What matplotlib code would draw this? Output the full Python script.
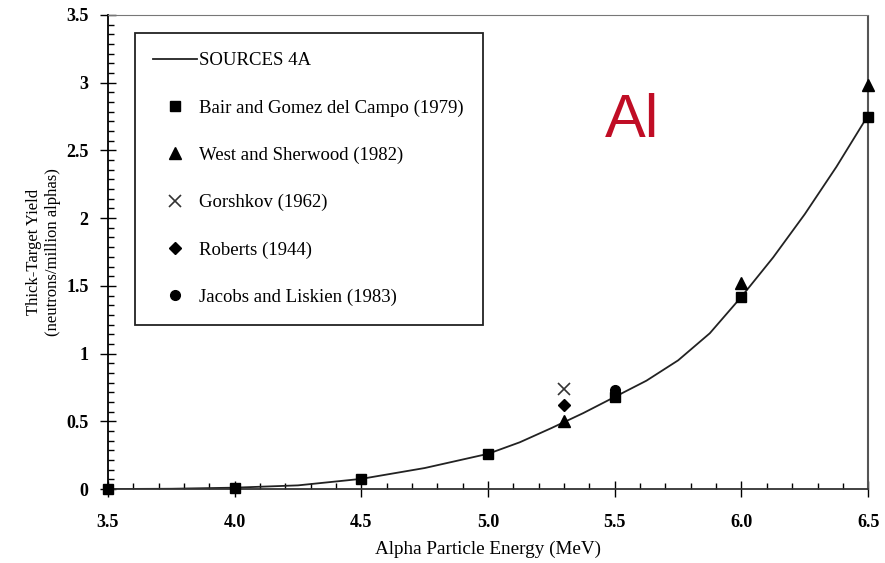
import matplotlib.pyplot as plt
from matplotlib.ticker import MultipleLocator, AutoMinorLocator

# SOURCES 4A calculated curve
calc_e = [3.5, 3.75, 4.0, 4.25, 4.5, 4.75, 5.0, 5.125, 5.25, 5.375, 5.5, 5.625, 5.75, 5.875,
          6.0, 6.125, 6.25, 6.375, 6.5]
calc_y = [0.0, 0.002, 0.01, 0.027, 0.075, 0.155, 0.26, 0.345, 0.45, 0.56, 0.68, 0.80, 0.95, 1.15,
          1.42, 1.71, 2.03, 2.38, 2.76]

bair_e = [3.5, 4.0, 4.5, 5.0, 5.5, 6.0, 6.5]
bair_y = [0.0, 0.01, 0.075, 0.26, 0.68, 1.42, 2.75]

west_e = [5.3, 6.0, 6.5]
west_y = [0.50, 1.52, 2.98]

gorshkov_e = [5.3]
gorshkov_y = [0.74]

roberts_e = [5.3]
roberts_y = [0.62]

jacobs_e = [5.5]
jacobs_y = [0.73]

xticks = [3.5, 4.0, 4.5, 5.0, 5.5, 6.0, 6.5]
xlabels = ['3.5', '4.0', '4.5', '5.0', '5.5', '6.0', '6.5']
yticks = [0, 0.5, 1, 1.5, 2, 2.5, 3, 3.5]
ylabels = ['0', '0.5', '1', '1.5', '2', '2.5', '3', '3.5']

plt.rcParams['font.family'] = ['Liberation Serif', 'DejaVu Serif']

fig = plt.figure(figsize=(8.85, 5.63), dpi=100)
ax = fig.add_axes([0.122, 0.1314, 0.859, 0.842])

ax.plot(calc_e, calc_y, color='#222222', lw=1.3, label='SOURCES 4A', zorder=2)
ax.plot(bair_e, bair_y, 's', color='black', ms=7, label='Bair and Gomez del Campo (1979)',
        zorder=3, clip_on=False)
ax.plot(west_e, west_y, '^', color='black', ms=8, label='West and Sherwood (1982)',
        zorder=3, clip_on=False)
ax.plot(gorshkov_e, gorshkov_y, 'x', color='#333333', ms=8, mew=1.2, label='Gorshkov (1962)', zorder=3)
ax.plot(roberts_e, roberts_y, 'D', color='black', ms=6, label='Roberts (1944)', zorder=3)
ax.plot(jacobs_e, jacobs_y, 'o', color='black', ms=7, label='Jacobs and Liskien (1983)', zorder=3)

ax.set_xlim(3.5, 6.5)
ax.set_ylim(0, 3.5)
ax.set_xticks(xticks)
ax.set_xticklabels(xlabels)
ax.set_yticks(yticks)
ax.set_yticklabels(ylabels)
ax.xaxis.set_minor_locator(MultipleLocator(0.1))
ax.yaxis.set_minor_locator(AutoMinorLocator(7))

ax.tick_params(axis='both', which='major', direction='inout', length=12, width=1, labelsize=13, color='black')
ax.tick_params(axis='both', which='minor', direction='in', length=4, width=1)
ax.tick_params(axis='x', which='both', top=False, pad=12)
ax.tick_params(axis='y', which='both', right=False, pad=8)
for lbl in ax.get_xticklabels() + ax.get_yticklabels():
    lbl.set_fontweight('bold')

ax.spines['left'].set_linewidth(1.3)
ax.spines['bottom'].set_linewidth(1.3)
ax.spines['bottom'].set_color('#333333')
ax.spines['top'].set_linestyle((0, (1, 1)))
ax.spines['top'].set_color('#777777')
ax.spines['right'].set_linestyle((0, (1, 1)))
ax.spines['right'].set_color('#555555')
ax.spines['right'].set_linewidth(1.5)

ax.set_xlabel('Alpha Particle Energy (MeV)', fontsize=13.8, labelpad=7)
ax.set_ylabel('Thick-Target Yield\n(neutrons/million alphas)', fontsize=12,
              labelpad=4, linespacing=1.2)

leg = ax.legend(loc='upper left', bbox_to_anchor=(0.035, 0.961), prop={'size': 13.5},
                frameon=True, fancybox=False, edgecolor='#222222', framealpha=1, borderpad=1.0,
                labelspacing=1.6, handlelength=2.35, handletextpad=0.1, borderaxespad=0)
leg.get_frame().set_linewidth(1.3)

ax.text(5.57, 2.71, 'Al', color='#c00d25', fontsize=44, family='Liberation Sans',
        ha='center', va='center')

fig.savefig('out.png', dpi=100)
